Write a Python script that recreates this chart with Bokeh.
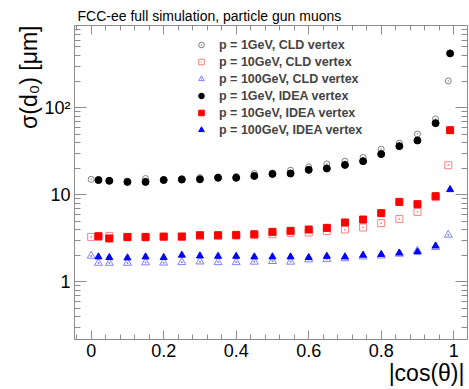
import math
from bokeh.plotting import figure
from bokeh.models import (Legend, LegendItem, Title, LinearAxis, LogAxis, Range1d,
                          SingleIntervalTicker, LogTicker, CustomJSTickFormatter)
from bokeh.embed import file_html
from bokeh.resources import INLINE

# ---------------- data ----------------
x_cld = [0.0, 0.02, 0.05, 0.10, 0.15, 0.20, 0.25, 0.30, 0.35, 0.40, 0.45,
         0.50, 0.55, 0.60, 0.65, 0.70, 0.75, 0.80, 0.85, 0.90, 0.95, 0.985]
cld_1gev = [15.1, 14.8, 14.6, 14.3, 15.4, 15.0, 15.4, 15.8, 16.1, 16.3, 17.6,
            17.8, 19.2, 21.0, 22.7, 24.4, 26.9, 33.5, 39.3, 49.9, 74.8, 204]
cld_10gev = [3.29, 3.30, 3.38, 3.25, 3.25, 3.28, 3.30, 3.35, 3.38, 3.40, 3.45,
             3.53, 3.66, 3.70, 3.85, 4.00, 4.22, 4.73, 5.30, 6.38, 9.4, 21.9]
cld_100gev = [1.99, 1.65, 1.65, 1.65, 1.67, 1.66, 1.68, 1.71, 1.68, 1.68, 1.70,
              1.73, 1.70, 1.81, 1.83, 1.86, 1.95, 2.0, 2.1, 2.27, 2.5, 3.47]

x_idea = [0.02, 0.05, 0.10, 0.15, 0.20, 0.25, 0.30, 0.35, 0.40, 0.45,
          0.50, 0.55, 0.60, 0.65, 0.70, 0.75, 0.80, 0.85, 0.90, 0.95, 0.99]
idea_1gev = [14.8, 14.5, 14.1, 14.1, 14.8, 15.0, 15.1, 15.7, 15.7, 16.5,
             17.4, 17.6, 19.4, 20.1, 22.1, 24.4, 29.4, 36.3, 42.2, 66.7, 422]
idea_10gev = [3.35, 3.16, 3.29, 3.29, 3.32, 3.32, 3.44, 3.44, 3.47, 3.53,
              3.76, 3.86, 4.00, 4.18, 4.82, 5.21, 6.17, 8.31, 7.82, 9.66, 55.4]
idea_100gev = [1.94, 1.91, 1.89, 1.94, 1.91, 2.03, 1.99, 1.97, 1.97, 1.94,
               1.94, 1.94, 1.91, 1.97, 1.94, 2.03, 2.07, 2.15, 2.21, 2.59, 11.5]

labels = ["p = 1GeV, CLD vertex", "p = 10GeV, CLD vertex", "p = 100GeV, CLD vertex",
          "p = 1GeV, IDEA vertex", "p = 10GeV, IDEA vertex", "p = 100GeV, IDEA vertex"]

title_text = "FCC-ee full simulation, particle gun muons"
x_title = "|cos(θ)|"
y_title = "σ(d₀) [μm]"

FONT = "Liberation Sans"
AXC = "#8c8c8c"

p = figure(width=469, height=389, x_range=Range1d(-0.046, 1.038),
           y_range=Range1d(0.218, 883), y_axis_type="log",
           output_backend="svg", toolbar_location=None,
           min_border_left=74, min_border_right=2, min_border_top=25, min_border_bottom=50)
p.title.visible = False
p.xgrid.grid_line_color = None
p.ygrid.grid_line_color = None
p.outline_line_color = AXC
p.background_fill_color = "white"
p.border_fill_color = "white"

xfmt = CustomJSTickFormatter(code="""
var v = Math.round(tick*10)/10;
if (Math.abs(v) < 1e-9) return '0';
if (Math.abs(v-1) < 1e-9) return '1';
return v.toFixed(1);
""")
yfmt = CustomJSTickFormatter(code="""
if (Math.abs(tick-100) < 1e-6) return '10\u00b2';
return String(Math.round(tick));
""")
blank = CustomJSTickFormatter(code="return '';")


def style(ax, maj, mino):
    ax.axis_line_color = AXC
    ax.major_tick_line_color = AXC
    ax.minor_tick_line_color = AXC
    ax.major_tick_in = maj
    ax.major_tick_out = 0
    ax.minor_tick_in = mino
    ax.minor_tick_out = 0
    ax.major_label_text_font = FONT
    ax.major_label_text_color = "black"
    ax.major_label_text_font_size = "18px"


xa = p.xaxis[0]
xa.ticker = SingleIntervalTicker(interval=0.2, num_minor_ticks=5)
xa.formatter = xfmt
style(xa, 9, 5)
xa.major_label_standoff = 4

ya = p.yaxis[0]
ya.ticker = LogTicker(num_minor_ticks=10)
ya.formatter = yfmt
style(ya, 12, 6)
ya.major_label_standoff = 4

top = LinearAxis(ticker=SingleIntervalTicker(interval=0.2, num_minor_ticks=5), formatter=blank)
style(top, 9, 5)
top.major_label_standoff = 0
p.add_layout(top, "above")
right = LogAxis(ticker=LogTicker(num_minor_ticks=10), formatter=blank)
style(right, 12, 6)
right.major_label_standoff = 0
p.add_layout(right, "right")

r1 = p.scatter(x_cld, cld_1gev, marker="circle_dot", size=6, fill_color=None,
               line_color="#808080", line_width=1)
r2 = p.scatter(x_cld, cld_10gev, marker="square_dot", size=7, fill_color=None,
               line_color="#ff8080", line_width=1)
r3 = p.scatter(x_cld, cld_100gev, marker="triangle_dot", size=8, fill_color=None,
               line_color="#8080ff", line_width=1)
r4 = p.scatter(x_idea, idea_1gev, marker="circle", size=7, fill_color="black",
               line_color="black")
r5 = p.scatter(x_idea, idea_10gev, marker="square", size=7, fill_color="#ff0000",
               line_color="#ff0000")
r6 = p.scatter(x_idea, idea_100gev, marker="triangle", size=7, fill_color="#0000ff",
               line_color="#0000ff")

legend = Legend(items=[LegendItem(label=l, renderers=[r]) for l, r in
                       zip(labels, [r1, r2, r3, r4, r5, r6])],
                location=(120, 201), border_line_color=None, background_fill_alpha=0,
                glyph_width=14, glyph_height=17, label_height=17, spacing=0,
                label_standoff=11, padding=0, margin=0,
                label_text_font=FONT, label_text_font_style="bold",
                label_text_font_size="12.5px")
p.add_layout(legend)

p.add_layout(Title(text=title_text, align="left", offset=3, standoff=3,
                   text_font=FONT, text_font_size="14px", text_font_style="normal",
                   text_color="black"), "above")
p.add_layout(Title(text=y_title, align="right", offset=0, standoff=0,
                   text_font=FONT, text_font_size="23px", text_font_style="normal",
                   text_color="black"), "left")
p.add_layout(Title(text=x_title, align="right", offset=3, standoff=0,
                   vertical_align="top",
                   text_font=FONT, text_font_size="23px", text_font_style="normal",
                   text_line_height=0.8, text_color="black"), "below")

open("out.html", "w").write(file_html(p, INLINE))
